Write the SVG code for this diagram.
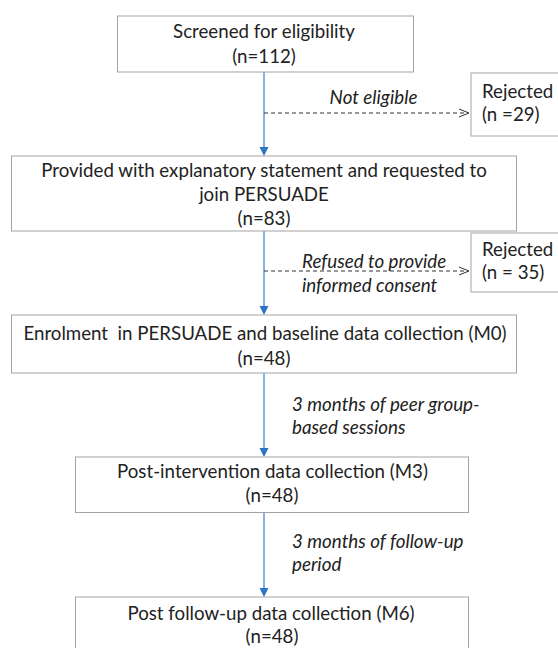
<svg xmlns="http://www.w3.org/2000/svg" width="558" height="648" viewBox="0 0 558 648">
<style>
.box{fill:#ffffff;stroke:#a3a3a3;stroke-width:1}
.t{font-family:Lato,"Liberation Sans",sans-serif;font-size:18.7px;fill:#222222}
.c{text-anchor:middle}
.i{font-style:italic;font-size:18.8px}
.main{stroke:#4a86cc;stroke-width:1.3;fill:none}
.head{fill:#2e74c4}
.dash{stroke:#333;stroke-width:1;stroke-dasharray:4 3;fill:none}
.chev{stroke:#333;stroke-width:1;fill:none}
</style>
<rect width="558" height="648" fill="#ffffff"/>
<g id="connectors">
<line class="main" x1="264" y1="72" x2="264" y2="148"/>
<polygon class="head" points="259.5,147 268.5,147 264,156"/>
<line class="main" x1="264" y1="231" x2="264" y2="307"/>
<polygon class="head" points="259.5,306 268.5,306 264,315"/>
<line class="main" x1="264" y1="373" x2="264" y2="449"/>
<polygon class="head" points="259.5,448 268.5,448 264,457"/>
<line class="main" x1="264" y1="512.5" x2="264" y2="589"/>
<polygon class="head" points="259.5,588 268.5,588 264,597"/>
<line class="dash" x1="264" y1="113" x2="468" y2="113"/>
<polyline class="chev" points="459,109 469,113 459,117"/>
<line class="dash" x1="264" y1="271" x2="468" y2="271"/>
<polyline class="chev" points="459,267 469,271 459,275"/>
<text class="t i c" x="373.5" y="104">Not eligible</text>
<text class="t i" x="302" y="268">Refused to provide</text>
<text class="t i" x="302" y="292">informed consent</text>
<text class="t i" x="292" y="411">3 months of peer group-</text>
<text class="t i" x="292" y="434">based sessions</text>
<text class="t i" x="292" y="548">3 months of follow-up</text>
<text class="t i" x="292" y="571">period</text>
</g>
<g id="screened">
<rect class="box" x="117.5" y="16" width="296" height="56"/>
<text class="t c" x="264" y="38">Screened for eligibility</text>
<text class="t c" x="264" y="63">(n=112)</text>
</g>
<g id="rejected1">
<rect class="box" x="471" y="73" width="95" height="63"/>
<text class="t" x="482" y="98">Rejected</text>
<text class="t" x="482" y="121">(n =29)</text>
</g>
<g id="provided">
<rect class="box" x="11.5" y="156" width="505" height="75"/>
<text class="t c" x="264" y="177">Provided with explanatory statement and requested to</text>
<text class="t c" x="264" y="201">join PERSUADE</text>
<text class="t c" x="264" y="225">(n=83)</text>
</g>
<g id="rejected2">
<rect class="box" x="471" y="233" width="95" height="59"/>
<text class="t" x="482" y="256">Rejected</text>
<text class="t" x="482" y="279">(n = 35)</text>
</g>
<g id="enrolment">
<rect class="box" x="11.5" y="315" width="505" height="58"/>
<text class="t c" x="265" y="340" xml:space="preserve">Enrolment  in PERSUADE and baseline data collection (M0)</text>
<text class="t c" x="264" y="365">(n=48)</text>
</g>
<g id="post-intervention">
<rect class="box" x="75.5" y="457" width="393" height="55.5"/>
<text class="t c" x="272.5" y="478">Post-intervention data collection (M3)</text>
<text class="t c" x="272" y="502">(n=48)</text>
</g>
<g id="post-followup">
<rect class="box" x="75.5" y="597" width="393" height="70"/>
<text class="t c" x="271" y="620">Post follow-up data collection (M6)</text>
<text class="t c" x="272" y="643">(n=48)</text>
</g>
</svg>
